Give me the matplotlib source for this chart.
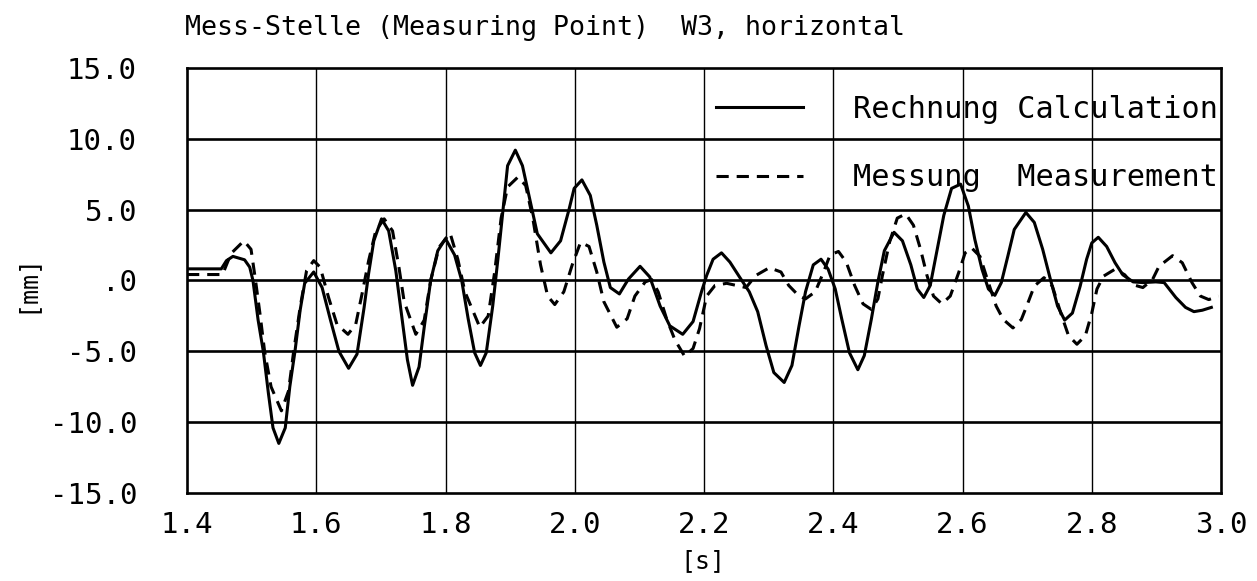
import matplotlib.pyplot as plt
from matplotlib.ticker import FixedLocator

# Rechnung (calculation) - solid curve
t_calc = [1.400, 1.453, 1.461, 1.471, 1.489, 1.497, 1.502, 1.510, 1.518, 1.526,
          1.533, 1.542, 1.552, 1.559, 1.567, 1.575, 1.582, 1.596, 1.609, 1.622,
          1.635, 1.650, 1.663, 1.674, 1.681, 1.689, 1.701, 1.712, 1.723, 1.733,
          1.741, 1.749, 1.759, 1.767, 1.777, 1.788, 1.800, 1.814, 1.825, 1.835,
          1.845, 1.854, 1.863, 1.873, 1.881, 1.889, 1.896, 1.908, 1.919, 1.930,
          1.942, 1.963, 1.978, 1.991, 1.999, 2.011, 2.024, 2.034, 2.045, 2.055,
          2.069, 2.083, 2.101, 2.116, 2.132, 2.147, 2.167, 2.183, 2.196, 2.204,
          2.214, 2.227, 2.240, 2.255, 2.270, 2.283, 2.296, 2.308, 2.324, 2.336,
          2.347, 2.357, 2.369, 2.381, 2.392, 2.403, 2.413, 2.425, 2.438, 2.448,
          2.459, 2.469, 2.479, 2.494, 2.507, 2.520, 2.530, 2.540, 2.550, 2.560,
          2.571, 2.583, 2.597, 2.609, 2.619, 2.630, 2.640, 2.650, 2.660, 2.670,
          2.680, 2.698, 2.711, 2.724, 2.736, 2.747, 2.758, 2.770, 2.782, 2.792,
          2.800, 2.810, 2.823, 2.836, 2.848, 2.864, 2.879, 2.899, 2.912, 2.930,
          2.945, 2.958, 2.971, 2.985]
y_calc = [0.82, 0.82, 1.4, 1.7, 1.46, 0.94, 0.0, -2.8, -5.0, -8.0,
          -10.4, -11.5, -10.4, -7.5, -5.0, -2.1, -0.2, 0.6, -0.5, -2.8,
          -5.0, -6.2, -5.2, -1.9, 0.5, 2.8, 4.35, 3.5, 0.7, -2.8,
          -5.6, -7.4, -6.1, -3.3, 0.0, 2.1, 2.95, 1.8, 0.0, -2.7,
          -5.1, -6.0, -5.1, -1.8, 1.5, 5.0, 8.1, 9.2, 8.1, 5.8,
          3.3, 1.95, 2.8, 5.0, 6.5, 7.1, 6.0, 3.9, 1.3, -0.5,
          -0.95, 0.1, 1.0, 0.25, -1.8, -3.2, -3.8, -2.9, -0.8, 0.35,
          1.5, 1.95, 1.3, 0.24, -0.8, -2.2, -4.6, -6.5, -7.2, -6.0,
          -3.2, -0.8, 1.1, 1.5, 0.8, -0.6, -2.7, -5.1, -6.3, -5.3,
          -2.7, -0.1, 2.1, 3.4, 2.8, 1.1, -0.6, -1.2, -0.35, 2.0,
          4.6, 6.5, 6.8, 5.25, 2.9, 0.8, -0.6, -1.05, -0.15, 1.7,
          3.6, 4.8, 4.1, 2.2, 0.07, -1.8, -2.8, -2.3, -0.4, 1.5,
          2.65, 3.05, 2.4, 1.25, 0.4, -0.1, -0.15, -0.1, -0.15, -1.2,
          -1.9, -2.2, -2.1, -1.9]

# Messung (measurement) - dashed curve
t_meas = [1.400, 1.455, 1.468, 1.488, 1.499, 1.506, 1.513, 1.520, 1.530, 1.546,
          1.557, 1.565, 1.575, 1.585, 1.596, 1.606, 1.619, 1.632, 1.649, 1.661,
          1.671, 1.681, 1.692, 1.705, 1.718, 1.728, 1.736, 1.754, 1.767, 1.777,
          1.790, 1.807, 1.819, 1.830, 1.853, 1.866, 1.876, 1.886, 1.896, 1.912,
          1.924, 1.935, 1.947, 1.958, 1.969, 1.983, 1.996, 2.009, 2.022, 2.034,
          2.045, 2.065, 2.081, 2.093, 2.109, 2.119, 2.129, 2.142, 2.155, 2.170,
          2.183, 2.193, 2.204, 2.217, 2.235, 2.250, 2.265, 2.280, 2.301, 2.319,
          2.331, 2.347, 2.357, 2.372, 2.385, 2.395, 2.408, 2.420, 2.433, 2.446,
          2.459, 2.469, 2.476, 2.487, 2.499, 2.512, 2.524, 2.535, 2.545, 2.555,
          2.568, 2.581, 2.594, 2.604, 2.614, 2.627, 2.640, 2.652, 2.663, 2.678,
          2.691, 2.701, 2.711, 2.726, 2.739, 2.752, 2.764, 2.777, 2.790, 2.800,
          2.808, 2.818, 2.836, 2.851, 2.864, 2.879, 2.894, 2.904, 2.925, 2.940,
          2.955, 2.968, 2.981, 2.996]
y_meas = [0.42, 0.42, 1.9, 2.8, 2.2, 0.0, -2.4, -5.0, -7.5, -9.2,
          -7.8, -5.0, -1.9, 0.7, 1.4, 0.94, -1.2, -3.1, -3.8, -3.1,
          -0.9, 1.4, 3.5, 4.35, 3.5, 0.9, -1.5, -3.8, -2.8, 0.0,
          2.35, 3.35, 1.5, -0.8, -3.3, -2.5, 0.6, 4.4, 6.6, 7.3,
          6.7, 4.4, 1.1, -1.1, -1.7, -0.8, 1.1, 2.7, 2.4, 0.6,
          -1.5, -3.3, -2.7, -1.1, -0.1, 0.07, -0.8, -2.7, -4.2, -5.35,
          -4.8, -3.4, -1.1, -0.35, -0.2, -0.35, -0.5, 0.35, 0.9, 0.6,
          -0.35, -1.1, -1.3, -0.8, 0.6, 1.8, 2.05, 1.3, -0.35, -1.65,
          -2.05, -1.3, 0.35, 2.7, 4.4, 4.7, 3.9, 2.2, 0.35, -1.1,
          -1.65, -1.1, 0.55, 1.95, 2.3, 1.7, -0.15, -1.8, -2.75, -3.35,
          -2.75, -1.6, -0.4, 0.2, -0.4, -2.3, -3.9, -4.5, -3.9, -2.3,
          -0.6, 0.3, 0.8, 0.4, -0.3, -0.5, 0.07, 1.0, 1.75, 1.25,
          -0.15, -1.1, -1.35, -1.1]

x_ticks = [1.4, 1.6, 1.8, 2.0, 2.2, 2.4, 2.6, 2.8, 3.0]
x_labels = ['1.4', '1.6', '1.8', '2.0', '2.2', '2.4', '2.6', '2.8', '3.0']
y_ticks = [15, 10, 5, 0, -5, -10, -15]
y_labels = ['15.0', '10.0', '5.0', '.0', '-5.0', '-10.0', '-15.0']

plt.rcParams['font.family'] = 'DejaVu Sans Mono'

fig = plt.figure(figsize=(12.57, 5.81), dpi=100)
ax = fig.add_axes([0.1488, 0.1515, 0.8226, 0.7315])

# grid: thick horizontal, thin vertical
for v in y_ticks[1:-1]:
    ax.axhline(v, color='black', lw=1.9, zorder=1)
for v in x_ticks[1:-1]:
    ax.axvline(v, color='black', lw=1.0, zorder=1)

ax.plot(t_calc, y_calc, color='black', lw=2.2, label='Rechnung Calculation', zorder=3)
ax.plot(t_meas, y_meas, color='black', lw=2.2, linestyle=(0, (4.0, 2.6)),
        label='Messung  Measurement', zorder=3)

ax.set_xlim(1.4, 3.0)
ax.set_ylim(-15, 15)
ax.xaxis.set_major_locator(FixedLocator(x_ticks))
ax.set_xticklabels(x_labels)
ax.yaxis.set_major_locator(FixedLocator(y_ticks))
ax.set_yticklabels(y_labels)
ax.tick_params(axis='both', length=0, labelsize=21)
ax.tick_params(axis='y', pad=36)
ax.tick_params(axis='x', pad=13)
for sp in ax.spines.values():
    sp.set_linewidth(1.9)

leg = ax.legend(loc='upper left', bbox_to_anchor=(0.512, 0.937), frameon=False,
                fontsize=21.8, handlelength=2.85, handletextpad=1.65,
                labelspacing=1.3, borderpad=0, borderaxespad=0)

fig.text(0.1472, 0.952, 'Mess-Stelle (Measuring Point)  W3, horizontal',
         fontsize=19.2, va='center', ha='left')
fig.text(0.02, 0.513, '[mm]', fontsize=18, rotation=90, va='center', ha='center')
fig.text(0.559, 1 - 561 / 581, '[s]', fontsize=18, va='center', ha='center')

fig.savefig('out.png', dpi=100)
